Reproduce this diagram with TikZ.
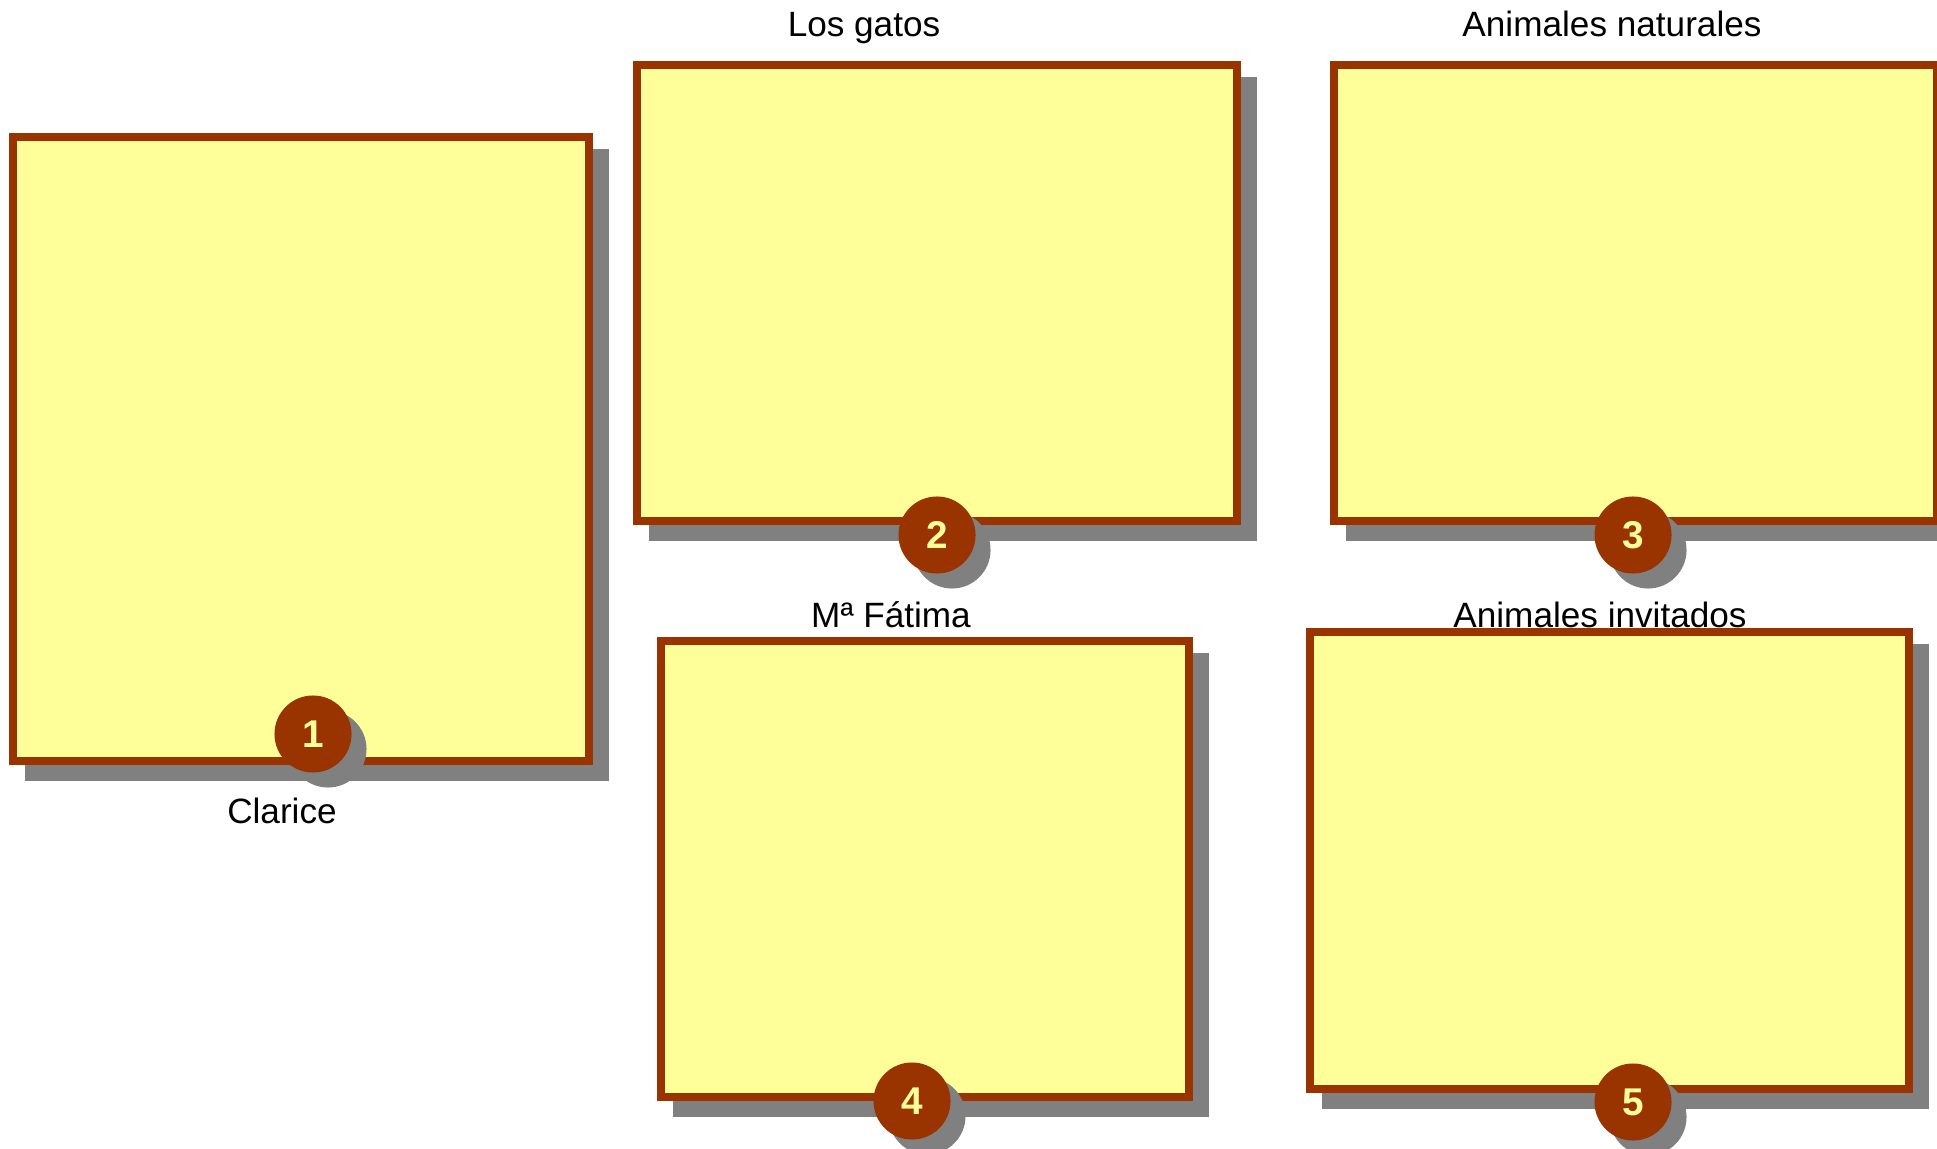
\documentclass[tikz,border=0pt]{standalone}
\usepackage{fontspec}
\setmainfont{Liberation Sans}
\definecolor{marron}{HTML}{993300}
\definecolor{amarillo}{HTML}{FFFF99}
\definecolor{sombra}{HTML}{808080}
\tikzset{
  caja/.style={draw=marron,fill=amarillo,line width=0.08cm},
  numero/.style={circle,fill=marron,text=amarillo,inner sep=0pt,minimum size=0.77cm,
    font=\bfseries\fontsize{11}{13}\selectfont},
  sombranum/.style={circle,fill=sombra,inner sep=0pt,minimum size=0.77cm},
  titulo/.style={anchor=base,font=\fontsize{10}{12}\selectfont}
}

\begin{document}
\begin{tikzpicture}[x=0.01cm,y=-0.01cm]
  \useasboundingbox (0,0) rectangle (1937,1149);
  \clip (0,0) rectangle (1937,1149);
  % cajas con su sombra (borde exterior)
  \foreach \xa/\ya/\xb/\yb in {9/133/593/765, 633/61/1241/525, 1330/61/1941/525,
                               657/637/1193/1101, 1306/628/1913/1093}{
    \fill[sombra] (\xa+16,\ya+16) rectangle (\xb+16,\yb+16);
    \draw[caja] (\xa+4,\ya+4) rectangle (\xb-4,\yb-4);
  }
  % numeros
  \foreach \n/\cx/\cy in {1/313/734, 2/937/535, 3/1633/535, 4/912/1101, 5/1633/1102}{
    \node[sombranum] (s\n) at (\cx+15,\cy+15) {};
    \node[numero] (n\n) at (\cx,\cy) {\n};
  }
  % titulos
  \node[titulo] (clarice) at (282,823) {Clarice};
  \node[titulo] (gatos) at (864,37) {Los gatos};
  \node[titulo] (naturales) at (1612,37) {Animales naturales};
  \node[titulo] (fatima) at (891,627) {Mª Fátima};
  \node[titulo] (invitados) at (1600,627) {Animales invitados};
\end{tikzpicture}
\end{document}
